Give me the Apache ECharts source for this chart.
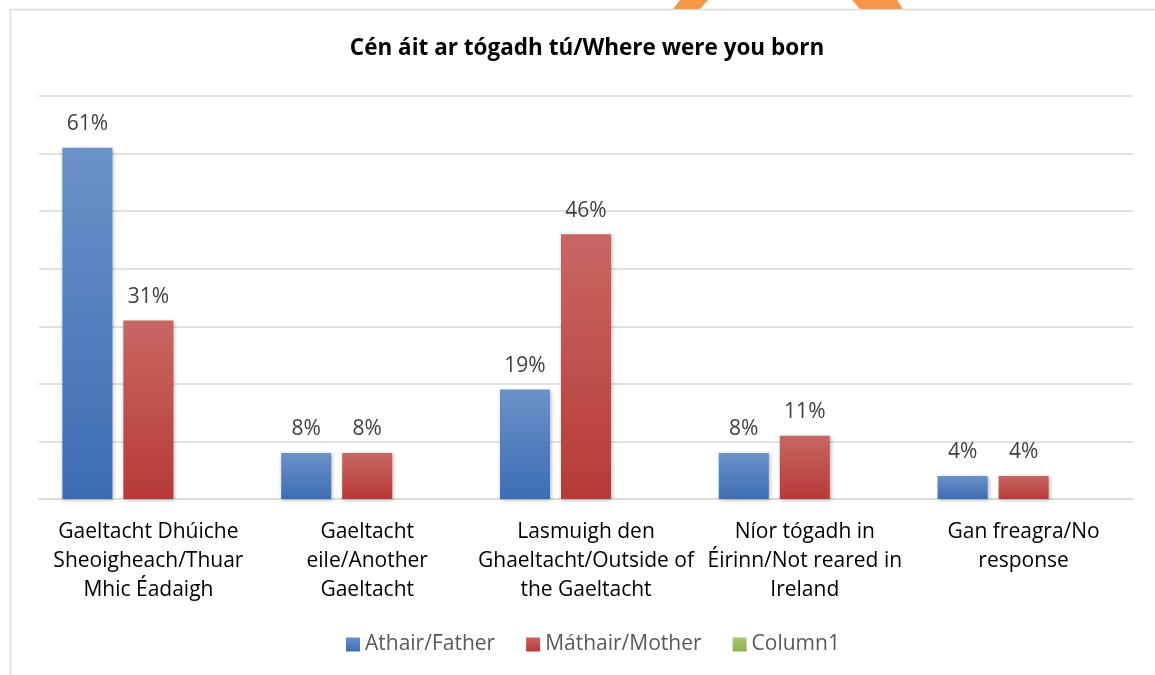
<!DOCTYPE html>
<html>
<head>
<meta charset="utf-8">
<script src="https://cdn.jsdelivr.net/npm/echarts@6/dist/echarts.min.js"></script>
<style>
  html, body { margin: 0; padding: 0; background: #fff; }
  #main { width: 1155px; height: 675px; }
</style>
</head>
<body>
<div id="main"></div>
<script>
const categories = [
  "Gaeltacht Dhúiche\nSheoigheach/Thuar\nMhic Éadaigh",
  "Gaeltacht\neile/Another\nGaeltacht",
  "Lasmuigh den\nGhaeltacht/Outside of\nthe Gaeltacht",
  "Níor tógadh in\nÉirinn/Not reared in\nIreland",
  "Gan freagra/No\nresponse"
];
const father = [61, 8, 19, 8, 4];
const mother = [31, 8, 46, 11, 4];
const column1 = [null, null, null, null, null];

const font = "'Open Sans', 'Noto Sans', sans-serif";

function grad(top, bottom) {
  return new echarts.graphic.LinearGradient(0, 0, 0, 1, [
    { offset: 0, color: top },
    { offset: 1, color: bottom }
  ]);
}

function barSeries(name, data, top, bottom) {
  return {
    name: name,
    type: "bar",
    data: data,
    barWidth: 50,
    barGap: "22%",
    itemStyle: {
      color: grad(top, bottom),
      shadowColor: "rgba(0,0,0,0.3)",
      shadowBlur: 4,
      shadowOffsetX: 1,
      shadowOffsetY: 1
    },
    label: {
      show: true,
      position: "top",
      distance: 13,
      formatter: "{c}%",
      color: "#404040",
      fontSize: 21,
      fontFamily: font
    }
  };
}

const chart = echarts.init(document.getElementById("main"));
chart.setOption({
  animation: false,
  backgroundColor: "#fff",
  title: {
    text: "Cén áit ar tógadh tú/Where were you born",
    left: 582,
    textAlign: "center",
    top: 32,
    textStyle: { fontSize: 22.5, fontWeight: "bold", color: "#000", fontFamily: font }
  },
  graphic: [
    {
      type: "rect",
      shape: { x: 10.5, y: 9.5, width: 1160, height: 680 },
      style: { fill: null, stroke: "#d9d9d9", lineWidth: 1.5 },
      silent: true
    },
    {
      type: "polygon",
      shape: { points: [[680, 0], [708, 0], [700, 9], [673, 9]] },
      style: { fill: "#f79646" },
      silent: true
    },
    {
      type: "polygon",
      shape: { points: [[852, 0], [897, 0], [903, 9], [860, 9]] },
      style: { fill: "#f79646" },
      silent: true
    }
  ],
  legend: {
    top: 629,
    left: 341,
    itemWidth: 14,
    itemHeight: 14,
    itemGap: 31,
    icon: "rect",
    textStyle: { fontSize: 21, color: "#595959", fontFamily: font },
    data: ["Athair/Father", "Máthair/Mother", "Column1"]
  },
  grid: { left: 39, right: 22, top: 96, bottom: 176 },
  xAxis: {
    type: "category",
    data: categories,
    axisTick: { show: false },
    axisLine: { lineStyle: { color: "#d9d9d9", width: 1.5 } },
    axisLabel: {
      interval: 0,
      margin: 19,
      fontSize: 21,
      lineHeight: 29,
      color: "#000",
      fontFamily: font
    }
  },
  yAxis: {
    type: "value",
    min: 0,
    max: 70,
    interval: 10,
    axisLabel: { show: false },
    axisLine: { show: false },
    axisTick: { show: false },
    splitLine: { lineStyle: { color: "#d9d9d9", width: 1.5 } }
  },
  series: [
    barSeries("Athair/Father", father, "#6b91c9", "#3c6db3"),
    barSeries("Máthair/Mother", mother, "#c86764", "#b63a37"),
    barSeries("Column1", column1, "#a9c77a", "#8fb04d")
  ]
});
</script>
</body>
</html>
